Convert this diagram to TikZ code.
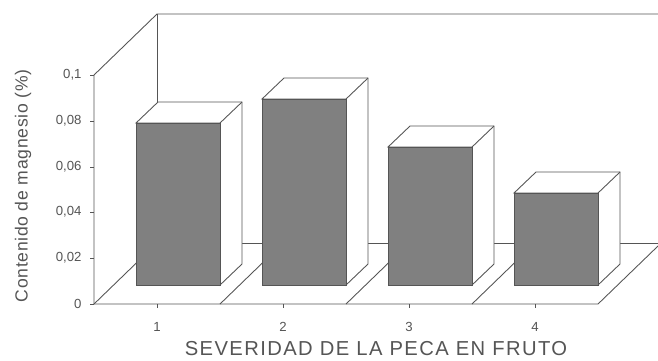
\documentclass[tikz,border=0pt]{standalone}
\usepackage{fontspec}
\setmainfont{Liberation Sans}
\newfontfamily\widefont[LetterSpace=4]{Liberation Sans}
\newfontfamily\widerfont[LetterSpace=7]{Liberation Sans}
\usepackage{tikz}
\definecolor{ink}{RGB}{85, 85, 85}
\definecolor{shade}{RGB}{128, 128, 128}

\begin{document}
\begin{tikzpicture}[x=0.02cm, y=-0.02cm, line width=0.5pt, color=ink]
  \fill[white] (0, 0) rectangle (658, 360);
  \useasboundingbox (0, 0) rectangle (658, 360);

  \draw (94, 75) -- (157, 14) -- (658, 14);
  \draw (157, 14) -- (157, 243) -- (658, 243);
  \draw (94, 304) -- (157, 243);
  \draw (94, 75) -- (94, 304) -- (598, 304) -- (658, 246);
  \foreach \k in {1, 2, 3}
    \draw (94+126*\k, 304) -- ++(63, -61);

  \foreach \y/\t in {304/0, 258/{0,02}, 212/{0,04}, 167/{0,06}, 121/{0,08}, 75/{0,1}} {
    \draw (90, \y) -- (94, \y);
    \node[anchor=east, inner sep=0pt, font=\fontsize{7.5}{9}\selectfont] (yt\y) at (82, \y) {\t};
  }
  \foreach \k in {1, ..., 4} {
    \draw (31+126*\k, 304) -- ++(0, 4);
    \node[font=\fontsize{7.5}{9}\selectfont] (xt\k) at (31+126*\k, 327) {\k};
  }

  \foreach \i/\h in {1/123, 2/99, 3/147, 4/193} {
    \draw[fill=white] (10+126*\i, \h) -- ++(22, -21) -- ++(84, 0) -- (116+126*\i, 264)
                      -- (94+126*\i, 285) -- (94+126*\i, \h) -- cycle;
    \draw (94+126*\i, \h) -- ++(22, -21);
    \draw[fill=shade] (10+126*\i, \h) rectangle (94+126*\i, 285);
  }

  \node[rotate=90, font=\widefont\fontsize{10}{12}\selectfont] (ytitle) at (23, 186)
       {Contenido de magnesio (\%)};
  \node[inner sep=0pt, font=\widerfont\fontsize{11.5}{13}\selectfont] (xtitle) at (376, 349)
       {SEVERIDAD DE LA PECA EN FRUTO};
\end{tikzpicture}
\end{document}
